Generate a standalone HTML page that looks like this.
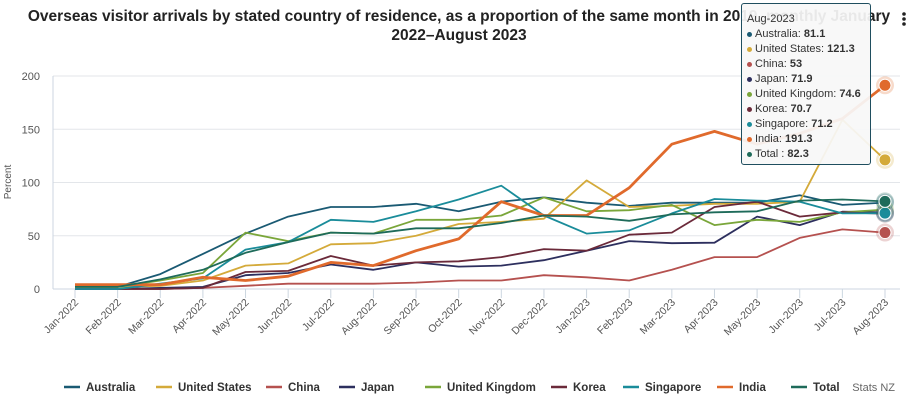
<!DOCTYPE html>
<html><head><meta charset="utf-8">
<style>
body{margin:0;background:#fff;font-family:"Liberation Sans",sans-serif;}
#wrap{position:relative;width:918px;height:400px;overflow:hidden;}
svg text{font-family:"Liberation Sans",sans-serif;}
#tip{position:absolute;left:741px;top:3px;width:130px;height:162px;background:rgba(247,247,247,0.93);border:1.5px solid #1f4e5f;border-radius:3px;box-sizing:border-box;padding:8px 0 0 5px;font-size:11px;color:#333;line-height:15px;white-space:nowrap;}
#tip .d{display:inline-block;width:5px;height:5px;border-radius:50%;margin-right:3px;vertical-align:middle;}
#tip b{font-weight:bold;}
</style></head><body>
<div id="wrap">
<svg id="chart" width="918" height="400">
  <text x="459" y="21" text-anchor="middle" font-size="15.5" font-weight="bold" fill="#222">Overseas visitor arrivals by stated country of residence, as a proportion of the same month in 2019, monthly January</text>
  <text x="459" y="40" text-anchor="middle" font-size="15.5" font-weight="bold" fill="#222">2022–August 2023</text>
  <g id="menu"><circle cx="904" cy="14" r="1.8" fill="#222"/><circle cx="904" cy="19" r="1.8" fill="#222"/><circle cx="904" cy="24" r="1.8" fill="#222"/></g>
  <text transform="translate(11,182) rotate(-90)" text-anchor="middle" font-size="10" fill="#555">Percent</text>
  <g id="grid"></g><g id="xaxis"></g><g id="series"></g><g id="legend"></g>
  <text x="895" y="391" text-anchor="end" font-size="11" fill="#666">Stats NZ</text>
</svg>
<div id="tip">
<div>Aug-2023</div>
<div><span class="d" style="background:#1a5a73"></span>Australia: <b>81.1</b></div>
<div><span class="d" style="background:#d4aa3a"></span>United States: <b>121.3</b></div>
<div><span class="d" style="background:#b5514f"></span>China: <b>53</b></div>
<div><span class="d" style="background:#2d2f5e"></span>Japan: <b>71.9</b></div>
<div><span class="d" style="background:#7aa63a"></span>United Kingdom: <b>74.6</b></div>
<div><span class="d" style="background:#6b2a3a"></span>Korea: <b>70.7</b></div>
<div><span class="d" style="background:#1a8c9a"></span>Singapore: <b>71.2</b></div>
<div><span class="d" style="background:#e06a2c"></span>India: <b>191.3</b></div>
<div><span class="d" style="background:#1e6b5a"></span>Total : <b>82.3</b></div>
</div>
</div>
<script>
const categories=["Jan-2022","Feb-2022","Mar-2022","Apr-2022","May-2022","Jun-2022","Jul-2022","Aug-2022","Sep-2022","Oct-2022","Nov-2022","Dec-2022","Jan-2023","Feb-2023","Mar-2023","Apr-2023","May-2023","Jun-2023","Jul-2023","Aug-2023"];
const yTicks=[0,50,100,150,200];
const seriesNames=["Australia","United States","China","Japan","United Kingdom","Korea","Singapore","India","Total"];
const seriesColors=["#1a5a73","#d4aa3a","#b5514f","#2d2f5e","#7aa63a","#6b2a3a","#1a8c9a","#e06a2c","#1e6b5a"];
const australia=[2,2,14,33,52,68,77,77,80,73,82,86,81,78,81,81,81,88,79,81.1];
const unitedStates=[2,2,3,8,22,24,42,43,50,61,63,66,102,77,78,80,80,82,159,121.3];
const china=[0,0,0,1,3,5,5,5,6,8,8,13,11,8,18,30,30,48,56,53];
const japan=[0,0,1,2,13,15,23,18,25,21,22,27,36,45,43,43.5,68,60,72.6,71.9];
const unitedKingdom=[2,2,8,15,53,45,53,52,65,65,69,86,73,74,79,60,65,63,72,74.6];
const korea=[0,0,0,1,16,17,31,22,25,26,30,37.5,36,51,53,77,82,68,72,70.7];
const singapore=[0,0,5,10,37,44,65,63,73,84,97,69,52,55,71,84.5,83,82,71,71.2];
const india=[4,4,4,11,8,12,25,22,36,47,82,69,69,95,136,148,136,146,160,191.3];
const total=[2,2,9,18,34,44,53,52,57,57,62,69,68,64,70,72,73,83,84,82.3];
const allSeries=[australia,unitedStates,china,japan,unitedKingdom,korea,singapore,india,total];
const NS="http://www.w3.org/2000/svg";
const x0=75,x1=885,yb=289,yt=76,plotL=53,plotR=900;
const xs=i=>x0+(x1-x0)*i/(categories.length-1);
const ys=v=>yb-(yb-yt)*v/200;
function mk(t,a,p){const e=document.createElementNS(NS,t);for(const k in a)e.setAttribute(k,a[k]);p.appendChild(e);return e;}
const grid=document.getElementById('grid');
yTicks.forEach(t=>{
  const l=mk('line',{x1:plotL,x2:plotR,y1:ys(t),y2:ys(t),stroke:t===0?'#ccd6e0':'#e3e6ea','stroke-width':1},grid);
  
  
  const tx=mk('text',{x:40,y:ys(t)+4,'text-anchor':'end','font-size':11,fill:'#555'},grid);
  tx.textContent=t;
  
  
});
const ya=mk('line',{x1:plotL,x2:plotL,y1:yt,y2:yb,stroke:'#ccd6e0'},grid);


const xa=document.getElementById('xaxis');
categories.forEach((c,i)=>{
  const x=xs(i);
  const tk=mk('line',{x1:x,x2:x,y1:yb,y2:yb+9,stroke:'#ccd6e0'},xa);
  
  
  const t=mk('text',{transform:`translate(${x+4},${yb+14}) rotate(-45)`,'text-anchor':'end','font-size':10.5,fill:'#555'},xa);
  t.textContent=c;
  
  
});
const sg=document.getElementById('series');
allSeries.forEach((vals,si)=>{
  const d=vals.map((v,i)=>(i?'L':'M')+xs(i).toFixed(1)+','+ys(v).toFixed(1)).join(' ');
  const p=mk('path',{d:d,fill:'none',stroke:seriesColors[si],'stroke-width':si===7?2.8:1.8,'stroke-linejoin':'round'},sg);
  
  
});
allSeries.forEach((vals,si)=>{
  const last=vals.length-1;
  const h=mk('circle',{cx:xs(last),cy:ys(vals[last]),r:9,fill:seriesColors[si],opacity:0.25},sg);
  
  
  const c=mk('circle',{cx:xs(last),cy:ys(vals[last]),r:6,fill:seriesColors[si],stroke:'#fff','stroke-width':1},sg);
  
  
});
const lg=document.getElementById('legend');
const lx=[64,156,266,339,425,551,623,717,791];
seriesNames.forEach((n,i)=>{
  const g=mk('g',{},lg);
  
  
  mk('line',{x1:lx[i],x2:lx[i]+16,y1:387,y2:387,stroke:seriesColors[i],'stroke-width':2.5},g);
  const t=mk('text',{x:lx[i]+22,y:391,'font-size':11.5,'font-weight':'bold',fill:'#333'},g);
  t.textContent=n;
});
</script>
</body></html>
